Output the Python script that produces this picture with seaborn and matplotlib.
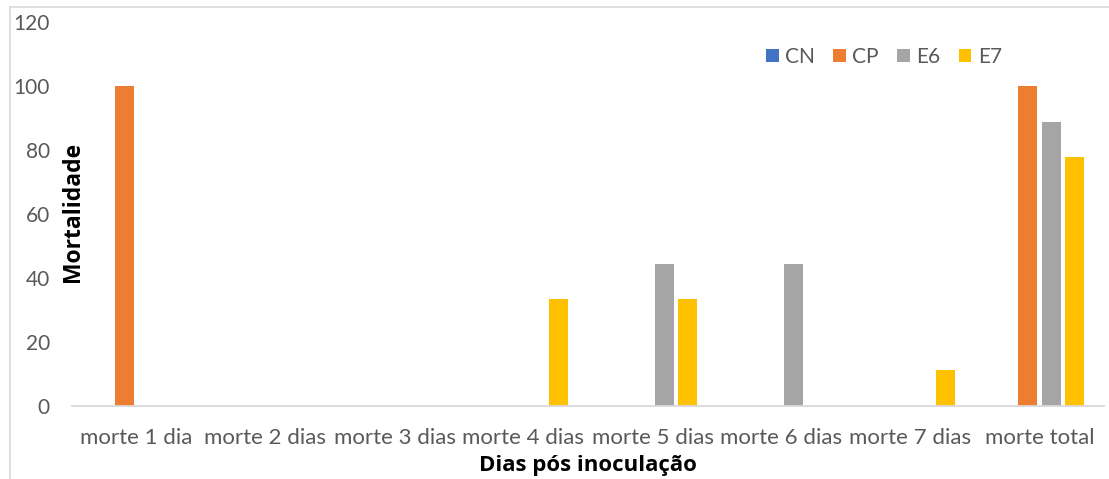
import matplotlib
matplotlib.use("Agg")
import matplotlib.pyplot as plt
import seaborn as sns
import pandas as pd
from matplotlib.lines import Line2D
from matplotlib.patches import Patch

categories = ["morte 1 dia", "morte 2 dias", "morte 3 dias", "morte 4 dias",
              "morte 5 dias", "morte 6 dias", "morte 7 dias", "morte total"]
series = ["CN", "CP", "E6", "E7"]
cn = [0, 0, 0, 0, 0, 0, 0, 0]
cp = [100, 0, 0, 0, 0, 0, 0, 100]
e6 = [0, 0, 0, 0, 44.44, 44.44, 0, 88.89]
e7 = [0, 0, 0, 33.33, 33.33, 0, 11.11, 77.78]
colors = ["#4472C4", "#ED7D31", "#A5A5A5", "#FFC000"]
yticks = [0, 20, 40, 60, 80, 100, 120]

rows = []
for name, vals in zip(series, [cn, cp, e6, e7]):
    for c, v in zip(categories, vals):
        rows.append({"cat": c, "serie": name, "val": v})
df = pd.DataFrame(rows)

sns.set_theme(style="white")
plt.rcParams["font.family"] = ["Lato", "DejaVu Sans"]

fig = plt.figure(figsize=(11.09, 4.79), dpi=100)
ax = fig.add_axes([72/1109, 1-406/479, (1104-72)/1109, (406-22)/479])

sns.barplot(data=df, x="cat", y="val", hue="serie", order=categories,
            hue_order=series, palette=colors, width=0.73, gap=0.2,
            saturation=1, ax=ax, legend=False, linewidth=0)

ax.set_xlim(-0.5, 7.5)
ax.set_ylim(0, 120)
ax.set_yticks(yticks)
ax.set_yticklabels([str(t) for t in yticks])
ax.tick_params(axis="y", length=0, pad=16, labelsize=15, labelcolor="#595959")
ax.set_xticks(range(len(categories)))
ax.set_xticklabels(categories)
ax.tick_params(axis="x", which="major", length=0, pad=16, labelsize=16, labelcolor="#595959")
ax.set_xticks([i - 0.5 for i in range(len(categories) + 1)], minor=True)
ax.tick_params(axis="x", which="minor", length=5, width=1.3, color="#D9D9D9", direction="out")
for s in ["top", "right", "left"]:
    ax.spines[s].set_visible(False)
ax.spines["bottom"].set_color("#D9D9D9")
ax.spines["bottom"].set_linewidth(1.3)
ax.set_xlabel("")
ax.set_ylabel("")

fig.text(73/1109, 1-212/479, "Mortalidade", rotation=90, ha="center", va="center",
         fontsize=16.5, fontweight="bold", color="black", family=["Open Sans", "DejaVu Sans"])
fig.text(588/1109, 1-466/479, "Dias pós inoculação", ha="center", va="center",
         fontsize=16, fontweight="bold", color="black", family=["Open Sans", "DejaVu Sans"])

handles = [Patch(facecolor=c, edgecolor="none") for c in colors]
fig.legend(handles, series, loc="center", bbox_to_anchor=(884/1109, 1-57/479),
           ncol=4, frameon=False, fontsize=15, labelcolor="#595959",
           handlelength=0.62, handleheight=0.62, handletextpad=0.3, columnspacing=0.87)

fig.add_artist(Line2D([10/1109, 10/1109], [0, 1-7/479], transform=fig.transFigure,
                      color="#D9D9D9", linewidth=1.2))
fig.add_artist(Line2D([10/1109, 1], [1-7/479, 1-7/479], transform=fig.transFigure,
                      color="#D9D9D9", linewidth=1.2))

fig.savefig("out.png", dpi=100)
